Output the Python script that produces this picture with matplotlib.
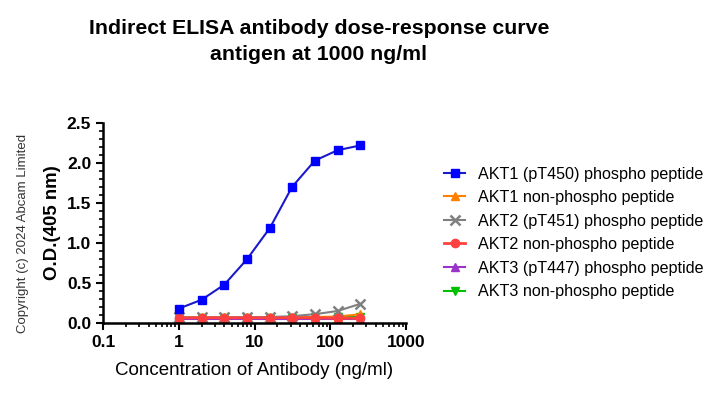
import matplotlib.pyplot as plt

plt.rcParams['font.family'] = ['Liberation Sans', 'DejaVu Sans']

conc = [1, 2, 4, 8, 16, 31.25, 62.5, 125, 250]
akt1_p = [0.18, 0.29, 0.48, 0.80, 1.19, 1.70, 2.03, 2.16, 2.22]
akt1_np = [0.07, 0.07, 0.07, 0.07, 0.07, 0.07, 0.075, 0.08, 0.11]
akt2_p = [0.07, 0.07, 0.07, 0.07, 0.075, 0.085, 0.11, 0.15, 0.24]
akt2_np = [0.065, 0.065, 0.065, 0.065, 0.065, 0.065, 0.065, 0.06, 0.06]
akt3_p = [0.05, 0.05, 0.05, 0.05, 0.05, 0.05, 0.05, 0.05, 0.05]
akt3_np = [0.06, 0.06, 0.06, 0.06, 0.06, 0.06, 0.07, 0.07, 0.08]

labels = ["AKT1 (pT450) phospho peptide", "AKT1 non-phospho peptide",
          "AKT2 (pT451) phospho peptide", "AKT2 non-phospho peptide",
          "AKT3 (pT447) phospho peptide", "AKT3 non-phospho peptide"]

fig = plt.figure(figsize=(7.18, 3.95), dpi=100)
ax = fig.add_axes([0.1435, 0.1823, 0.422, 0.5063])

ax.plot(conc, akt3_np, color="#00c000", marker="v", ms=6, lw=1.5, label=labels[5])
ax.plot(conc, akt3_p, color="#9933cc", marker="^", ms=6, lw=1.5, label=labels[4])
ax.plot(conc, akt1_np, color="#ff8000", marker="^", ms=6, lw=1.5, label=labels[1])
ax.plot(conc, akt2_p, color="#808080", marker="x", ms=7, mew=1.8, lw=1.5, label=labels[2])
ax.plot(conc, akt2_np, color="#ff4040", marker="o", ms=6, lw=2, label=labels[3])
ax.plot(conc, akt1_p, color="#1a1acc", marker="s", ms=6, mfc="#0000ff", mec="#0000ff", lw=1.5, label=labels[0])

ax.set_xscale("log")
ax.set_xlim(0.1, 1000)
ax.set_ylim(0, 2.5)
ax.set_yticks([0, 0.5, 1.0, 1.5, 2.0, 2.5])
ax.set_yticklabels(["0.0", "0.5", "1.0", "1.5", "2.0", "2.5"])
ax.set_yticks([i / 10 for i in range(26)], minor=True)
ax.set_xticks([0.1, 1, 10, 100, 1000])
ax.set_xticklabels(["0.1", "1", "10", "100", "1000"])
for s in ["top", "right"]:
    ax.spines[s].set_visible(False)
for s in ["left", "bottom"]:
    ax.spines[s].set_linewidth(1.8)
ax.tick_params(which="major", length=5, width=1.5, labelsize=12.5)
ax.tick_params(which="minor", length=3, width=1.2)
for t in ax.get_yticklabels() + ax.get_xticklabels():
    t.set_fontweight("bold")

ax.set_xlabel("Concentration of Antibody (ng/ml)", fontsize=13.5, labelpad=9)
ax.set_ylabel("O.D.(405 nm)", fontsize=13.4, fontweight="bold")

fig.text(319 / 718, 1 - 28 / 395, "Indirect ELISA antibody dose-response curve",
         ha="center", va="center", fontsize=15.3, fontweight="bold")
fig.text(319 / 718, 1 - 55 / 395, "antigen at 1000 ng/ml",
         ha="center", va="center", fontsize=15.3, fontweight="bold")
fig.text(23 / 718, 1 - 233 / 395, "Copyright (c) 2024 Abcam Limited",
         rotation=90, ha="center", va="center", fontsize=9.5, color="#333333")

h, l = ax.get_legend_handles_labels()
order = [5, 2, 3, 4, 1, 0]
fig.legend([h[i] for i in order], [l[i] for i in order], loc="upper left",
           bbox_to_anchor=(430 / 718, 1 - 152 / 395), frameon=False, fontsize=11.6,
           handlelength=1.25, handletextpad=0.8, labelspacing=0.53)

fig.savefig("out.png", dpi=100)
